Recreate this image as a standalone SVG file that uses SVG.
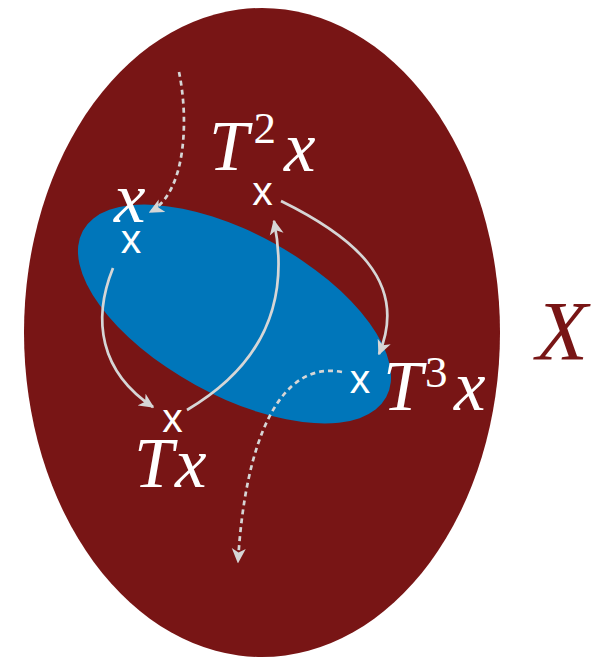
<svg xmlns="http://www.w3.org/2000/svg" width="616" height="658" viewBox="0 0 616 658">
  <style>
    .math { font-family: "Liberation Serif", "Times New Roman", serif; font-style: italic; fill: #ffffff; font-size: 71px; }
    .sup { font-style: normal; font-size: 45px; }
    .pt { font-family: "Liberation Sans", Arial, sans-serif; fill: #ffffff; font-size: 41px; text-anchor: middle; }
    .conn { fill: none; stroke: #d6d6d6; stroke-width: 2.7; marker-end: url(#head); }
    .dash { stroke-dasharray: 5 4; }
  </style>
  <defs>
    <marker id="head" viewBox="0 0 15 15" refX="13.5" refY="7.5" markerWidth="15" markerHeight="15" markerUnits="userSpaceOnUse" orient="auto">
      <path d="M0,0.5 L15,7.5 L0,14.5 L4,7.5 z" fill="#d6d6d6"/>
    </marker>
  </defs>

  <g id="space-X">
    <ellipse cx="262" cy="332.5" rx="238" ry="324.5" fill="#781515"/>
    <text x="536" y="360" font-family="Liberation Serif, Times New Roman, serif" font-style="italic" font-size="85" fill="#781515">X</text>
  </g>

  <g id="set-A">
    <ellipse cx="234.5" cy="314" rx="173" ry="81" transform="rotate(28.8 234.5 314)" fill="#0076ba"/>
  </g>

  <g id="connectors">
    <path class="conn dash" d="M179,72 C189,120 186,193 150,212"/>
    <path class="conn" d="M113,268 C92,320 100,372 153,407"/>
    <path class="conn" d="M187,410 C255,370 292,310 274,221"/>
    <path class="conn" d="M281,201 C350,235 410,280 379,354"/>
    <path class="conn dash" d="M342,372 C280,360 245,440 238,562"/>
  </g>

  <g id="node-x">
    <text class="pt" x="131" y="253">x</text>
    <text class="math" x="114" y="222" font-size="70">x</text>
  </g>

  <g id="node-Tx">
    <text class="pt" x="172.5" y="432">x</text>
    <text class="math" y="487"><tspan x="134">T</tspan><tspan x="175">x</tspan></text>
  </g>

  <g id="node-T2x">
    <text class="pt" x="262.5" y="205">x</text>
    <text class="math" y="170"><tspan x="209">T</tspan><tspan class="sup" x="253.5" y="143">2</tspan><tspan x="284" y="171">x</tspan></text>
  </g>

  <g id="node-T3x">
    <text class="pt" x="360" y="393">x</text>
    <text class="math" y="410"><tspan x="383">T</tspan><tspan class="sup" x="425" y="387">3</tspan><tspan x="454" y="410">x</tspan></text>
  </g>
</svg>
